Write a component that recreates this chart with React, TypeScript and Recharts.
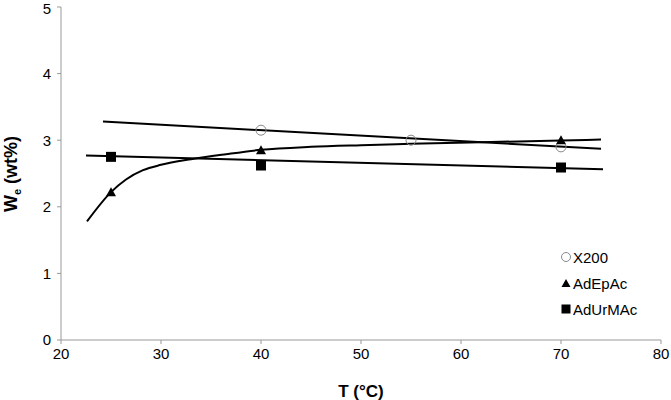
import React from "react";
import { ComposedChart, Line, Scatter, XAxis, YAxis } from "recharts";

// measured points
const tempX200 = [40, 55, 70];
const weX200 = [3.15, 3.0, 2.9];
const tempAdEpAc = [25, 40, 70];
const weAdEpAc = [2.22, 2.85, 3.0];
const tempAdUrMAc = [25, 40, 70];
const weAdUrMAc = [2.75, 2.62, 2.59];

// trend lines
const trendX200T = [24.2, 74];
const trendX200W = [3.28, 2.87];
const trendAdUrMAcT = [22.5, 74.2];
const trendAdUrMAcW = [2.77, 2.565];
const trendAdEpAcT = [22.6, 25, 26.5, 28.2, 30, 33, 36.5, 40, 45, 50, 55, 62, 70, 74];
const trendAdEpAcW = [1.78, 2.22, 2.41, 2.55, 2.63, 2.715, 2.79, 2.855, 2.9, 2.925, 2.945, 2.97, 2.995, 3.01];

const xTicks = [20, 30, 40, 50, 60, 70, 80];
const yTicks = [0, 1, 2, 3, 4, 5];
const seriesNames = ["X200", "AdEpAc", "AdUrMAc"];

const FONT = '"Liberation Sans", Arial, sans-serif';

const zip = (xs: number[], ys: number[]) => xs.map((x, i) => ({ x, y: ys[i] }));

const Circle = ({ cx, cy }: any) => (
  <circle cx={cx} cy={cy} r={5} fill="none" stroke="#888" strokeWidth={1} />
);
const Triangle = ({ cx, cy }: any) => (
  <path d={`M${cx},${cy - 5} L${cx + 5},${cy + 4} L${cx - 5},${cy + 4} Z`} fill="#000" />
);
const Square = ({ cx, cy }: any) => (
  <rect x={cx - 5} y={cy - 5} width={10} height={10} fill="#000" />
);

const legendIcons = [
  <svg width={10} height={10}><circle cx={5} cy={5} r={4.5} fill="none" stroke="#888" /></svg>,
  <svg width={10} height={10}><path d="M5,1 L9.5,9 L0.5,9 Z" fill="#000" /></svg>,
  <svg width={10} height={10}><rect x={0.5} y={0.5} width={9} height={9} fill="#000" /></svg>,
];

const YLabel = () => (
  <text
    x={17}
    y={174}
    transform="rotate(-90, 17, 174)"
    textAnchor="middle"
    fontFamily={FONT}
    fontWeight="bold"
    fontSize={18}
    fill="#000"
  >
    W<tspan fontSize={11} dy={4}>e</tspan>
    <tspan dy={-4}> (wt%)</tspan>
  </text>
);

export default function App() {
  return (
    <div style={{ position: "absolute", left: 0, top: 0, width: 671, height: 400, background: "#fff" }}>
      <ComposedChart width={671} height={400} margin={{ top: 7, right: 10, left: 0, bottom: 0 }}>
        <XAxis
          type="number"
          dataKey="x"
          domain={[20, 80]}
          ticks={xTicks}
          stroke="#999"
          tickSize={4}
          tickMargin={4}
          height={60}
          tick={{ fill: "#000", fontSize: 15, fontFamily: FONT }}
          label={{ value: "T (°C)", position: "insideBottom", offset: 3, fill: "#000", fontSize: 17, fontWeight: "bold", fontFamily: FONT }}
        />
        <YAxis
          type="number"
          dataKey="y"
          domain={[0, 5]}
          ticks={yTicks}
          stroke="#999"
          tickSize={4}
          tickMargin={6}
          width={61}
          tick={{ fill: "#000", fontSize: 15, fontFamily: FONT }}
          label={<YLabel />}
        />
        <Scatter name="X200" data={zip(tempX200, weX200)} shape={Circle} isAnimationActive={false} />
        <Scatter name="AdEpAc" data={zip(tempAdEpAc, weAdEpAc)} shape={Triangle} isAnimationActive={false} />
        <Scatter name="AdUrMAc" data={zip(tempAdUrMAc, weAdUrMAc)} shape={Square} isAnimationActive={false} />
        <Line data={zip(trendX200T, trendX200W)} dataKey="y" type="linear" stroke="#000" strokeWidth={2} dot={false} activeDot={false} legendType="none" isAnimationActive={false} />
        <Line data={zip(trendAdUrMAcT, trendAdUrMAcW)} dataKey="y" type="linear" stroke="#000" strokeWidth={2} dot={false} activeDot={false} legendType="none" isAnimationActive={false} />
        <Line data={zip(trendAdEpAcT, trendAdEpAcW)} dataKey="y" type="monotone" stroke="#000" strokeWidth={2} dot={false} activeDot={false} legendType="none" isAnimationActive={false} />
      </ComposedChart>
      <div style={{ position: "absolute", left: 561, top: 244, fontFamily: FONT, fontSize: 15, color: "#000" }}>
        {seriesNames.map((name, i) => (
          <div key={name} style={{ display: "flex", alignItems: "center", height: 26 }}>
            <span style={{ display: "inline-flex", width: 12 }}>{legendIcons[i]}</span>
            <span>{name}</span>
          </div>
        ))}
      </div>
    </div>
  );
}
